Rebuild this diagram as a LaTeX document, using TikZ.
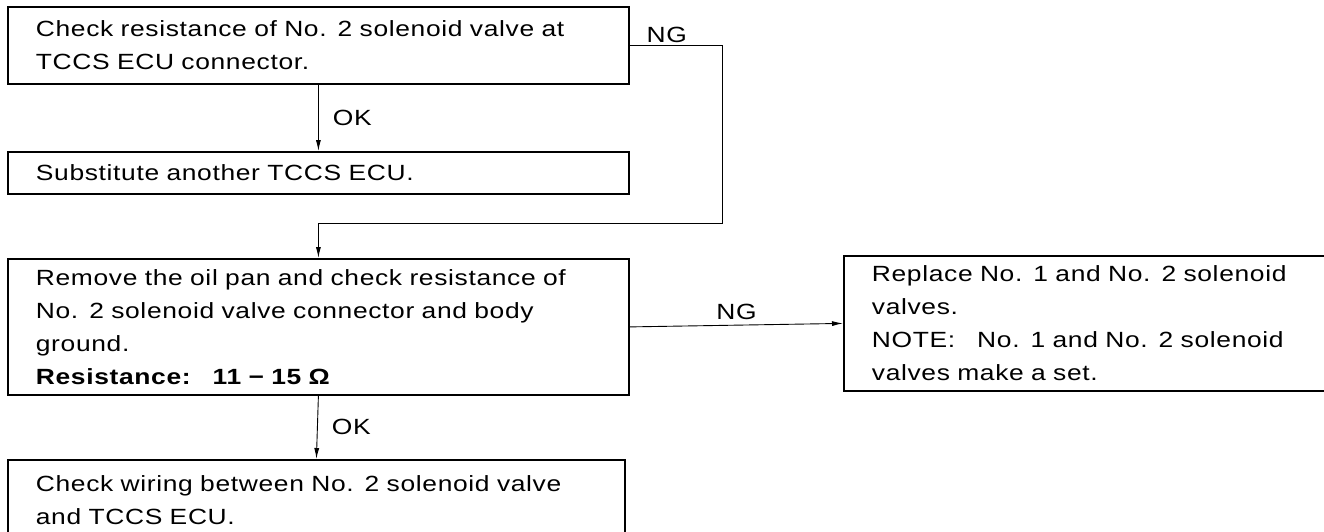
\documentclass[tikz,border=0pt]{standalone}
\usepackage{fontspec}
\setmainfont{Liberation Sans}[FakeStretch=1.2,LetterSpace=3,WordSpace=1.9]
\usetikzlibrary{positioning,arrows.meta}

\begin{document}
\begin{tikzpicture}[x=1pt,y=-1pt,font=\fontsize{22}{33}\selectfont]
    % Define styles
    \tikzstyle{stepbox} = [rectangle, draw, line width=1.8pt, align=left, inner xsep=28pt, inner ysep=0pt, anchor=north west]
    \tikzstyle{arrow} = [line width=0.9pt,-{Latex[length=11pt,width=5pt]}]
    \tikzstyle{lbl} = [inner sep=2pt]

    \useasboundingbox[fill=white] (0,0) rectangle (1324,531);
    \clip (0,0) rectangle (1324,531);

    % Components
    \node[stepbox, text width=565pt, minimum height=77pt] (check) at (7,6) {Check resistance of No. 2 solenoid valve at\\TCCS ECU connector.};
    \node[stepbox, text width=565pt, minimum height=42pt] (subst) at (7,151) {Substitute another TCCS ECU.};
    \node[stepbox, text width=565pt, minimum height=136pt] (pan) at (7,258) {Remove the oil pan and check resistance of\\No. 2 solenoid valve connector and body\\ground.\\\textbf{Resistance:\quad 11 − 15 Ω}};
    \node[stepbox, text width=434pt, minimum height=135pt] (repl) at (843,255) {Replace No. 1 and No. 2 solenoid\\valves.\\NOTE:\quad No. 1 and No. 2 solenoid\\valves make a set.};
    \node[stepbox, text width=561pt, minimum height=80pt] (wire) at (7,459) {Check wiring between No. 2 solenoid valve\\and TCCS ECU.};
    \coordinate (ngturn) at (722,223);

    % Arrows
    \draw[arrow] (check.south) -- node[lbl, right=12pt] {OK} (subst.north);
    \draw[arrow] (check.east) -| node[lbl, pos=0.2, above] {NG} (ngturn) -| (pan.north);
    \draw[arrow] (pan.east) -- node[lbl, above=3pt] {NG} (repl.west);
    \draw[arrow] (pan.south) -- node[lbl, right=12pt] {OK} (wire.north);

\end{tikzpicture}
\end{document}
